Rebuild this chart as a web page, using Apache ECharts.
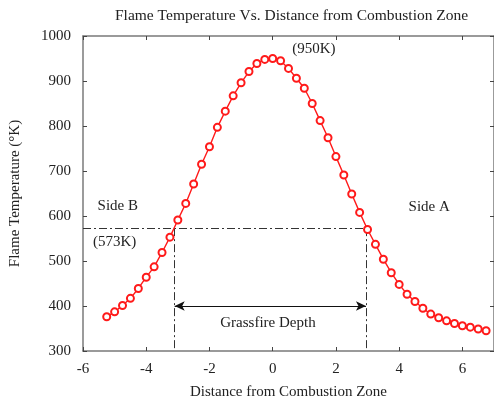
<!DOCTYPE html>
<html>
<head>
<meta charset="utf-8">
<script src="https://cdn.jsdelivr.net/npm/echarts@6/dist/echarts.min.js"></script>
<style>html,body{margin:0;padding:0;background:#fff}#c{width:494px;height:409px}</style>
</head>
<body>
<div id="c"></div>
<script>
// Data
const distances = [];
for (let i = 0; i < 49; i++) distances.push(-5.25 + i * 0.25);
const temperatures = [376, 387, 401, 417, 439, 464, 487, 519, 553, 591, 628, 671, 715, 754, 797, 833, 867, 896, 921, 939, 948,
  950,
  945, 928, 906, 884, 850, 812, 774, 732, 691, 649, 608, 570, 537, 504, 474, 448, 426, 410, 395, 382, 374, 367, 361, 356, 353, 349, 345];
const xTicks = [-6, -4, -2, 0, 2, 4, 6];
const yTicks = [300, 400, 500, 600, 700, 800, 900, 1000];
const thresholdTemp = 573;
const crossings = [-3.1, 2.95];
const depthLevel = 400;
const annotations = [
  { text: '(950K)', x: 1.3, y: 972 },
  { text: 'Side B', x: -4.9, y: 623 },
  { text: '(573K)', x: -5.0, y: 543 },
  { text: 'Side A', x: 4.95, y: 620 },
  { text: 'Grassfire Depth', x: -0.15, y: 361 }
];

const font = '"Liberation Serif", "DejaVu Serif", serif';
const axisColor = '#7a7a7a';
const dashDot = [8, 3, 2, 3];
const fs = 15;

const chart = echarts.init(document.getElementById('c'));
chart.setOption({
  animation: false,
  backgroundColor: '#fff',
  title: {
    text: 'Flame Temperature Vs. Distance from Combustion Zone',
    left: 110, top: 3,
    textStyle: { fontFamily: font, fontSize: 15.5, fontWeight: 'normal', color: '#222' }
  },
  grid: { left: 83, top: 36, width: 414, height: 315, containLabel: false },
  xAxis: [{
    type: 'value', min: -6, max: 7, interval: 2,
    name: 'Distance from Combustion Zone', nameLocation: 'middle', nameGap: 34,
    nameTextStyle: { fontFamily: font, fontSize: fs, color: '#222' },
    axisLine: { onZero: false, lineStyle: { color: axisColor, width: 1.5 } },
    axisTick: { inside: true, length: 4, lineStyle: { color: '#444' } },
    axisLabel: { fontFamily: font, fontSize: fs, color: '#222', margin: 11, showMaxLabel: false,
      formatter: v => xTicks.includes(v) ? String(v) : '' },
    splitLine: { show: false }
  }, {
    type: 'value', min: -6, max: 7, interval: 2, position: 'top',
    axisLine: { onZero: false, lineStyle: { color: axisColor, width: 1.5 } },
    axisTick: { inside: true, length: 4, lineStyle: { color: '#444' } },
    axisLabel: { show: false }, splitLine: { show: false }
  }],
  yAxis: [{
    type: 'value', min: 300, max: 1000, interval: 100,
    name: 'Flame Temperature (°K)', nameLocation: 'middle', nameGap: 60,
    nameTextStyle: { fontFamily: font, fontSize: fs, color: '#222' },
    axisLine: { show: true, onZero: false, lineStyle: { color: axisColor, width: 1.5 } },
    axisTick: { show: true, inside: true, length: 4, lineStyle: { color: '#444' } },
    axisLabel: { fontFamily: font, fontSize: fs, color: '#222', margin: 12,
      formatter: v => yTicks.includes(v) ? String(v) : '' },
    splitLine: { show: false }
  }, {
    type: 'value', min: 300, max: 1000, interval: 100, position: 'right',
    axisLine: { show: true, onZero: false, lineStyle: { color: axisColor, width: 1.5 } },
    axisTick: { show: true, inside: true, length: 4, lineStyle: { color: '#444' } },
    axisLabel: { show: false }, splitLine: { show: false }
  }],
  series: [{
    type: 'line',
    data: distances.map((d, i) => [d, temperatures[i]]),
    symbol: 'emptyCircle', symbolSize: 7,
    lineStyle: { color: '#ff1a1a', width: 1.4 },
    itemStyle: { color: '#ff1a1a', borderColor: '#ff1a1a', borderWidth: 1.3 },
    z: 5,
    markLine: {
      silent: true, symbol: 'none', animation: false,
      label: { show: false },
      lineStyle: { color: '#333', width: 1, type: dashDot },
      data: [
        [{ coord: [-6, thresholdTemp] }, { coord: [crossings[1], thresholdTemp] }],
        [{ coord: [crossings[0], thresholdTemp] }, { coord: [crossings[0], 300] }],
        [{ coord: [crossings[1], thresholdTemp] }, { coord: [crossings[1], 300] }],
        [{ coord: [crossings[0], depthLevel], symbol: 'arrow', symbolSize: [7, 10],
           lineStyle: { type: 'solid', color: '#111', width: 1.2 } },
         { coord: [crossings[1], depthLevel], symbol: 'arrow', symbolSize: [7, 10] }]
      ]
    }
  }, {
    type: 'scatter',
    data: annotations.map(a => ({ value: [a.x, a.y], label: { formatter: a.text } })),
    symbolSize: 0, silent: true,
    itemStyle: { opacity: 1 },
    label: { show: true, position: 'inside', fontFamily: font, fontSize: fs, color: '#222', opacity: 1 },
    z: 6
  }]
});
</script>
</body>
</html>
